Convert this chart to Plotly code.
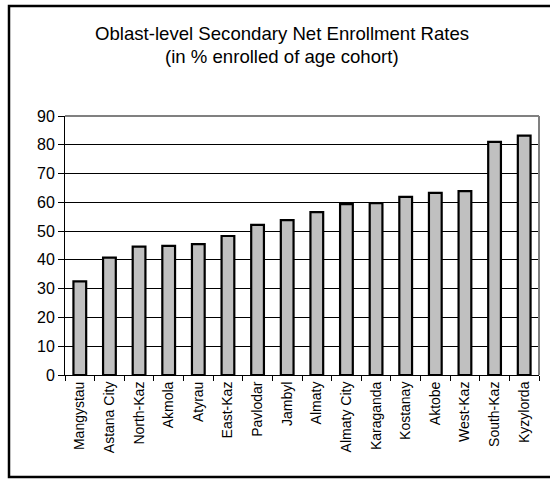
import plotly.graph_objects as go

# Oblast-level secondary net enrollment rates, sorted ascending
oblasts = ["Mangystau", "Astana City", "North-Kaz", "Akmola", "Atyrau", "East-Kaz",
           "Pavlodar", "Jambyl", "Almaty", "Almaty City", "Karaganda", "Kostanay",
           "Aktobe", "West-Kaz", "South-Kaz", "Kyzylorda"]
rates = [32.5, 40.8, 44.6, 44.9, 45.5, 48.3, 52.2, 53.8, 56.6, 59.4, 59.7, 61.9,
         63.3, 63.9, 81.0, 83.2]
y_ticks = [0, 10, 20, 30, 40, 50, 60, 70, 80, 90]

W, H = 550, 479
L, R, T, B = 65, 11, 116, 104
PW, PH = W - L - R, H - T - B
FONT = "Liberation Sans, Arial, sans-serif"


def px_x(px):
    return (px - L) / PW


def px_y(py):
    return (H - B - py) / PH


fig = go.Figure(go.Bar(
    x=oblasts,
    y=rates,
    marker=dict(color="#c0c0c0", line=dict(color="black", width=2.2)),
))

fig.update_layout(
    width=W, height=H,
    margin=dict(l=L, r=R, t=T, b=B),
    paper_bgcolor="white", plot_bgcolor="white",
    bargap=0.57,
    showlegend=False,
    font=dict(family=FONT, color="black"),
)

fig.update_xaxes(
    tickangle=-90,
    tickfont=dict(size=14, family=FONT, color="black"),
    ticks="outside", ticklen=5, tickcolor="black", tickwidth=1,
    tickson="boundaries",
    showline=True, linecolor="black", linewidth=1,
    showgrid=False,
)
fig.update_yaxes(
    range=[0, 90],
    tickvals=y_ticks,
    tickfont=dict(size=16, family=FONT, color="black"),
    ticks="outside", ticklen=6, tickcolor="black", tickwidth=1,
    showline=True, linecolor="black", linewidth=1,
    showgrid=True, gridcolor="black", gridwidth=1,
    zeroline=False,
)

# grey plot-area border on top and right
fig.add_shape(type="line", xref="paper", yref="paper", x0=0, x1=1, y0=1, y1=1,
              line=dict(color="#808080", width=2), layer="above")
fig.add_shape(type="line", xref="paper", yref="paper", x0=1, x1=1, y0=0, y1=1,
              line=dict(color="#808080", width=2), layer="above")

# outer chart frame (its right edge runs past the page)
fig.add_shape(type="rect", xref="paper", yref="paper",
              x0=px_x(9), x1=px_x(620), y0=px_y(477), y1=px_y(6),
              line=dict(color="black", width=2.5), layer="above")

# two-line title
fig.add_annotation(text="Oblast-level Secondary Net Enrollment Rates",
                   xref="paper", yref="paper", x=px_x(282), y=px_y(34),
                   xanchor="center", yanchor="middle", showarrow=False,
                   font=dict(size=18.6, family=FONT, color="black"))
fig.add_annotation(text="(in % enrolled of age cohort)",
                   xref="paper", yref="paper", x=px_x(282), y=px_y(56),
                   xanchor="center", yanchor="middle", showarrow=False,
                   font=dict(size=18.6, family=FONT, color="black"))

fig.write_html("out.html")
